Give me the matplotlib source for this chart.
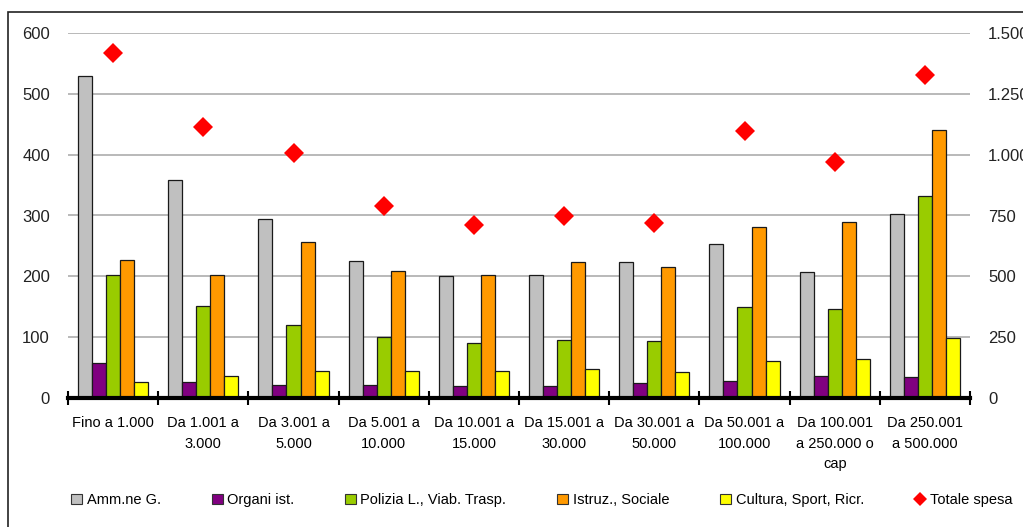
import matplotlib.pyplot as plt
import numpy as np
from matplotlib.patches import Patch, Rectangle
from matplotlib.lines import Line2D
from matplotlib.ticker import FuncFormatter, FixedLocator

plt.rcParams['font.family'] = ['Liberation Sans', 'DejaVu Sans']

classi = ['Fino a 1.000', 'Da 1.001 a\n3.000', 'Da 3.001 a\n5.000', 'Da 5.001 a\n10.000',
          'Da 10.001 a\n15.000', 'Da 15.001 a\n30.000', 'Da 30.001 a\n50.000',
          'Da 50.001 a\n100.000', 'Da 100.001\na 250.000 o\ncap', 'Da 250.001\na 500.000']

amm_gen = [530, 358, 294, 226, 200, 202, 223, 253, 207, 302]
organi_ist = [57, 27, 22, 21, 20, 19, 24, 28, 36, 34]
polizia_viab = [203, 152, 120, 101, 91, 95, 93, 150, 147, 332]
istruz_sociale = [227, 203, 256, 209, 202, 223, 216, 281, 290, 440]
cultura_sport = [27, 36, 44, 44, 45, 48, 43, 61, 64, 98]
totale_spesa = [1418, 1113, 1006, 789, 711, 750, 718, 1097, 971, 1326]

serie = [('Amm.ne G.', amm_gen, '#C0C0C0'),
         ('Organi ist.', organi_ist, '#800080'),
         ('Polizia L., Viab. Trasp.', polizia_viab, '#99CC00'),
         ('Istruz., Sociale', istruz_sociale, '#FF9900'),
         ('Cultura, Sport, Ricr.', cultura_sport, '#FFFF00')]

W, H = 1023, 527
fig = plt.figure(figsize=(W / 100, H / 100), dpi=100)

# outer frame (left and top edges visible)
fig.patches.append(Rectangle((8 / W, -0.1), 1.2, 1 - 12 / H + 0.1, transform=fig.transFigure,
                             fill=False, edgecolor='#222222', linewidth=1.2))

ax = fig.add_axes([68 / W, 1 - 398 / H, 902 / W, 365 / H])
x = np.arange(len(classi))
bw = 0.1555
for k, (nome, vals, col) in enumerate(serie):
    ax.bar(x + (k - 2) * bw, vals, bw, color=col, edgecolor='#1a1a1a', linewidth=0.9,
           zorder=3)

ax.set_xlim(-0.5, len(classi) - 0.5)
ax.set_ylim(0, 600)
ax.set_yticks(range(0, 601, 100))
ax.grid(axis='y', color='#a6a6a6', linewidth=1.1, zorder=0)
for s in ['top', 'right', 'left']:
    ax.spines[s].set_visible(False)
ax.spines['bottom'].set_linewidth(3)
ax.spines['bottom'].set_zorder(5)

ax.set_xticks(x)
ax.set_xticklabels(classi, fontsize=10.5, linespacing=1.6)
ax.xaxis.set_minor_locator(FixedLocator(np.arange(-0.5, len(classi), 1.0)))
ax.tick_params(axis='x', which='major', length=0, pad=13)
ax.tick_params(axis='x', which='minor', direction='inout', length=10, width=1.5)
ax.tick_params(axis='y', length=0, pad=13, labelsize=12, labelcolor='#222222')

ax2 = ax.twinx()
ax2.set_ylim(0, 1500)
ax2.set_yticks(range(0, 1501, 250))
ax2.yaxis.set_major_formatter(FuncFormatter(lambda v, p: f'{int(v):,}'.replace(',', '.')))
ax2.tick_params(axis='y', length=0, pad=13, labelsize=12, labelcolor='#222222')
for s in ax2.spines.values():
    s.set_visible(False)
ax2.plot(x, totale_spesa, linestyle='none', marker='D', markersize=10,
         color='#FF0000', markeredgewidth=0, zorder=6)

handles = [Patch(facecolor=col, edgecolor='#333333', linewidth=0.8) for _, _, col in serie]
handles.append(Line2D([], [], linestyle='none', marker='D', markersize=7,
                      color='#FF0000', markeredgewidth=0))
labels = [nome for nome, _, _ in serie] + ['Totale spesa']
fig.legend(handles, labels, loc='center', bbox_to_anchor=(542 / W, 1 - 500 / H), ncol=6,
           frameon=False, fontsize=10.5, handlelength=0.75, handleheight=0.75,
           handletextpad=0.3, columnspacing=3.5)

fig.savefig('out.png', dpi=100)
